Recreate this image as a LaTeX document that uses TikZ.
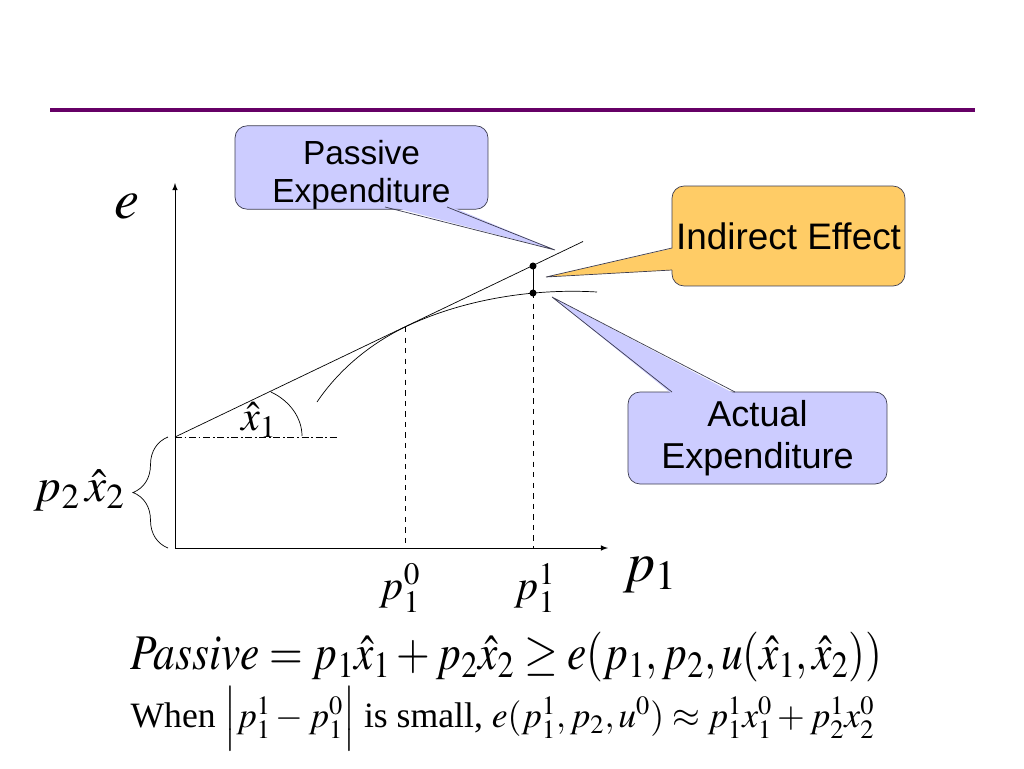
\documentclass[tikz,border=0pt]{standalone}
\usepackage{mathptmx}
\usepackage{fontspec}
\setmainfont{Liberation Serif}
\newfontfamily\arialfont{Liberation Sans}
\usetikzlibrary{calc,decorations.pathreplacing}
\definecolor{lila}{RGB}{204,204,255}
\definecolor{naranja}{RGB}{255,204,102}
\definecolor{morado}{RGB}{102,0,102}
\definecolor{borde}{RGB}{60,60,80}
\newcommand{\tam}[1]{\fontsize{#1}{1.2\dimexpr#1pt\relax}\selectfont}
\begin{document}
\begin{tikzpicture}[x=0.02cm, y=-0.02cm,
    caja/.style={draw=borde, rounded corners=0.24cm, align=center, inner sep=0pt,
      font=\arialfont\fontsize{19}{21.5}\selectfont}]
    \useasboundingbox (0,0) rectangle (1024,768);

    % Linea superior
    \draw[morado, line width=2.4pt] (50,110) -- (975,110);

    % Ejes
    \coordinate (O) at (175,548);
    \coordinate (Ytop) at (175,183);
    \coordinate (Xend) at (608,548);
    \draw[-latex] (O) -- (Ytop);
    \draw[-latex] (O) -- (Xend);
    \node (e) at (127,207) {\tam{32}$e$};
    \node[anchor=west] (p1) at (617,575) {\tam{32}$p_1$};

    % Gasto pasivo (recta) y gasto real (curva)
    \coordinate (A) at (175,437);
    \coordinate (B) at (583,241.5);
    \coordinate (T) at (405,327);
    \coordinate (C0) at (533,266);
    \coordinate (C1) at (533,293);
    \draw (A) -- (B);
    \draw (317,402) .. controls (340,368) and (372,343) .. (T)
        .. controls (460,300.6) and (530,288) .. (597,292);
    \draw[dash pattern=on 4pt off 1.5pt on 1pt off 1.5pt] (A) -- (337,437);

    % Precios p1^0 y p1^1
    \draw[dashed] (T) -- (T |- O);
    \draw[dashed] (C1) -- (C1 |- O);
    \node (p10) at (400,588) {\tam{24}$p_1^0$};
    \node (p11) at (535,588) {\tam{24}$p_1^1$};

    % Efecto indirecto
    \draw (C0) -- (C1);
    \fill (C0) circle (2pt);
    \fill (C1) circle (2pt);

    % Pendiente x1
    \draw (271,392) .. controls (290,401) and (302,418) .. (302,436);
    \node (x1) at (259,420) {\tam{24}$\hat{x}_1$};

    % Llave p2 x2
    \draw[decorate, decoration={brace, amplitude=0.7cm}] (168,548) -- (168,437);
    \node[anchor=east] (p2x2) at (131,490) {\tam{27}$p_2\,\hat{x}_2$};

    % Globos
    \node[caja, fill=lila, minimum width=5.06cm, minimum height=1.58cm] (pasivo)
        at (361.5,167.5) {\rule{0pt}{22pt}Passive\\Expenditure};
    \coordinate (pa1) at (385,207);
    \coordinate (pa2) at (447,207);
    \coordinate (pat) at (555,250);
    \fill[lila] ($(pa1)+(0,-2)$) -- (pat) -- ($(pa2)+(0,-2)$) -- cycle;
    \draw[borde] (pa1) -- (pat) -- (pa2);

    \node[caja, fill=naranja, minimum width=4.66cm, minimum height=2cm,
        font=\arialfont\fontsize{21}{24}\selectfont] (indirecto)
        at (788.5,236) {Indirect Effect};
    \coordinate (ia1) at (672,248);
    \coordinate (ia2) at (672,270);
    \coordinate (iat) at (546,277);
    \fill[naranja] ($(ia1)+(2,0)$) -- (iat) -- ($(ia2)+(2,0)$) -- cycle;
    \draw[borde] (ia1) -- (iat) -- (ia2);

    \node[caja, fill=lila, minimum width=5.18cm, minimum height=1.84cm,
        font=\arialfont\fontsize{20.5}{24}\selectfont] (real)
        at (757.5,438) {Actual\\Expenditure};
    \coordinate (ra1) at (672,392);
    \coordinate (ra2) at (735,392);
    \coordinate (rat) at (552,297);
    \fill[lila] ($(ra1)+(0,2)$) -- (rat) -- ($(ra2)+(0,2)$) -- cycle;
    \draw[borde] (ra1) -- (rat) -- (ra2);

    % Formulas
    \node (f1) at (506.5,657) {\scalebox{1}[1.15]{\tam{24.7}$Passive = p_1\hat{x}_1 + p_2\hat{x}_2 \geq e(p_1, p_2, u(\hat{x}_1, \hat{x}_2))$}};
    \node (f2) at (502.5,719) {\tam{20.3}When $\Big|p_1^1 - p_1^0\Big|$ is small, $e(p_1^1, p_2, u^0) \approx p_1^1x_1^0 + p_2^1x_2^0$};
\end{tikzpicture}
\end{document}
